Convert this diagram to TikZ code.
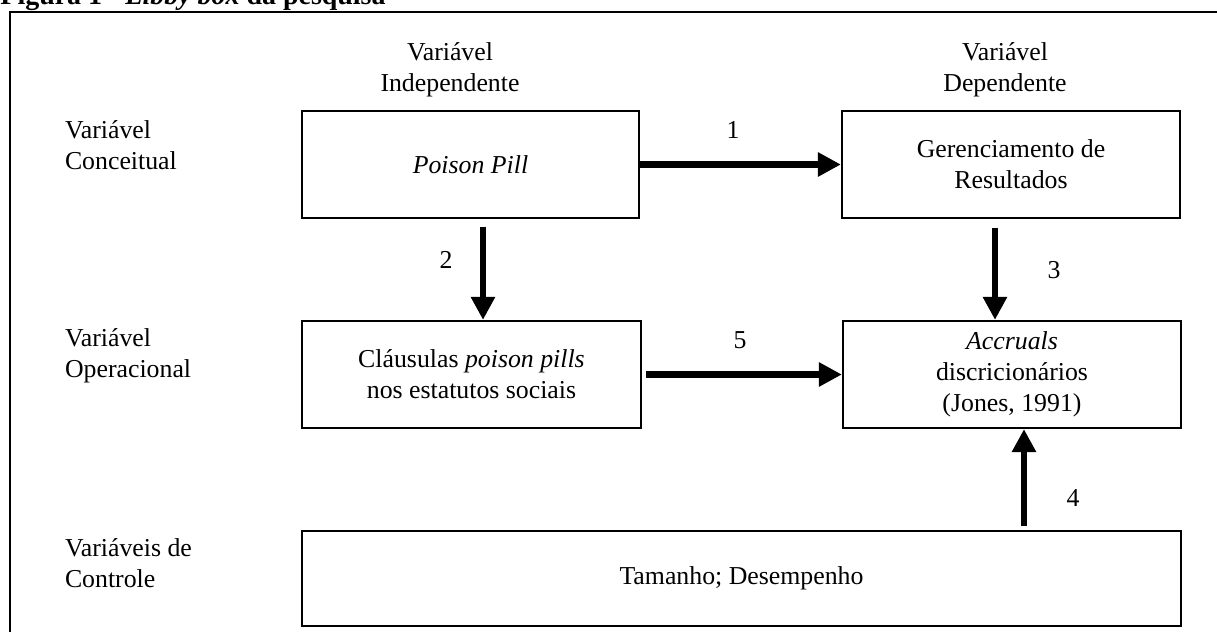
\documentclass[tikz,border=0pt,12pt]{standalone}
\usepackage{fontspec}
\setmainfont{Liberation Serif}
\usetikzlibrary{arrows.meta,calc,positioning}

\begin{document}
\begin{tikzpicture}[x=0.465pt,y=-0.465pt,
    box/.style={draw,line width=1pt,align=center,minimum height=49.8pt},
    arr/.style={line width=3pt,-{Triangle[length=10.7pt,width=10.7pt]}},
    varname/.style={anchor=west,align=left}]
    \useasboundingbox (0,0) rectangle (1217,632);
    \draw[line width=1pt] (10,650) |- (1230,12);
    \node[anchor=base west,inner sep=0pt,font=\fontsize{13}{15}\selectfont\bfseries] (title) at (0,5) {Figura 1 - \textit{Libby box} da pesquisa};

    \node[align=center] (hind) at (450,70) {Variável\\Independente};
    \node[align=center] (hdep) at (1005,70) {Variável\\Dependente};

    \node[varname] (vconc) at (56,145) {Variável\\Conceitual};
    \node[varname] (voper) at (56,356) {Variável\\Operacional};
    \node[varname] (vctrl) at (56,563) {Variáveis de\\Controle};

    \node[box,minimum width=156.7pt] (poison) at (470.5,164.5) {\textit{Poison Pill}};
    \node[box,minimum width=157.2pt] (gerenc) at (1011,164.5) {Gerenciamento de\\Resultados};
    \node[box,minimum width=157.6pt] (claus) at (471.5,374.5) {Cláusulas \textit{poison pills}\\nos estatutos sociais};
    \node[box,minimum width=157.2pt] (accr) at (1012,374.5) {\textit{Accruals}\\discricionários\\(Jones, 1991)};
    \node[box,minimum width=408.7pt,minimum height=44.2pt] (ctrl) at (741.5,578.5) {Tamanho; Desempenho};

    \draw[arr] (poison) -- (gerenc);
    \draw[arr,shorten <=2pt] (claus) -- (accr);
    \draw[arr,shorten <=3.5pt] ($(poison.south)+(12.5,0)$) -- ($(claus.north)+(11.5,0)$);
    \draw[arr,shorten <=4pt] ($(gerenc.south)+(-16,0)$) -- ($(accr.north)+(-17,0)$);
    \draw[arr,shorten <=2pt] ($(ctrl.north)+(282.5,0)$) -- ($(accr.south)+(12,0)$);

    \node (lab1) at (733,130) {1};
    \node (lab2) at (446,260) {2};
    \node (lab3) at (1054,270) {3};
    \node (lab4) at (1073,498) {4};
    \node (lab5) at (740,340) {5};
\end{tikzpicture}
\end{document}
